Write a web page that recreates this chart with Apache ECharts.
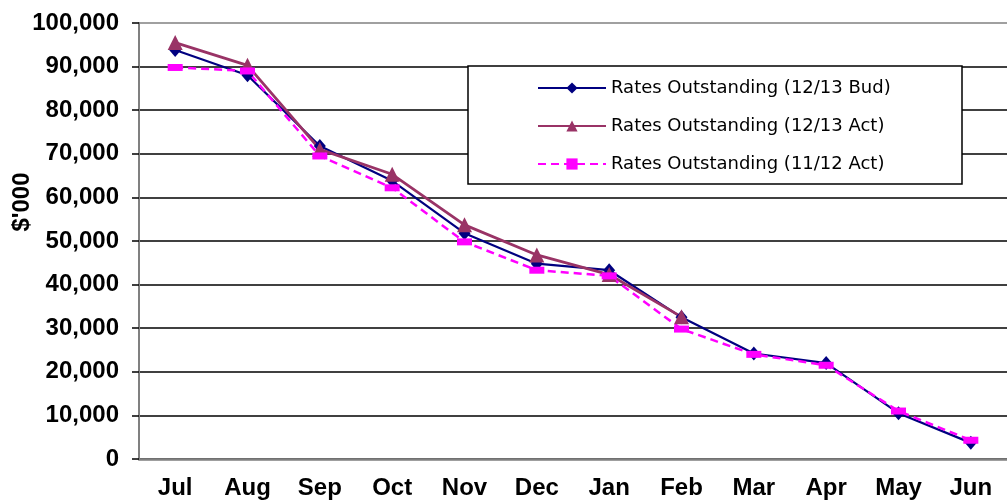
<!DOCTYPE html>
<html>
<head>
<meta charset="utf-8">
<script src="https://cdn.jsdelivr.net/npm/echarts@6/dist/echarts.min.js"></script>
<style>
  html, body { margin: 0; padding: 0; background: #fff; }
  #chart { width: 1007px; height: 500px; }
</style>
</head>
<body>
<div id="chart"></div>
<script>
// Monthly rates outstanding ($'000), financial year Jul–Jun
const months = ['Jul', 'Aug', 'Sep', 'Oct', 'Nov', 'Dec', 'Jan', 'Feb', 'Mar', 'Apr', 'May', 'Jun'];
const budget1213 = [93800, 88000, 71800, 63800, 51800, 44800, 43300, 32500, 24200, 22000, 10500, 3700];
const actual1213 = [95500, 90300, 71000, 65300, 53700, 46800, 42300, 32600, null, null, null, null];
const actual1112 = [89800, 89000, 69500, 62200, 49800, 43300, 42000, 29800, 24000, 21500, 11000, 4300];
const seriesNames = ['Rates Outstanding (12/13 Bud)', 'Rates Outstanding (12/13 Act)', 'Rates Outstanding (11/12 Act)'];
const yAxisTitle = "$'000";

const axisFont = 'Liberation Sans, Arial, sans-serif';
const withCommas = v => String(v).replace(/\B(?=(\d{3})+(?!\d))/g, ',');

// black gridlines, grey top border line at the maximum
const gridColors = [];
for (let i = 0; i < 10; i++) gridColors.push('#000');
gridColors.push('#808080');

const chart = echarts.init(document.getElementById('chart'), null, { renderer: 'canvas' });
chart.setOption({
  animation: false,
  backgroundColor: '#fff',
  grid: { left: 139, top: 23, bottom: 40, right: -12, containLabel: false },
  graphic: [
    {
      type: 'rect', z: 3,
      shape: { x: 468, y: 66, width: 494, height: 118 },
      style: { fill: '#fff', stroke: '#000', lineWidth: 1.5 }
    },
    {
      type: 'text', z: 5,
      x: 22, y: 202, rotation: Math.PI / 2,
      style: {
        text: yAxisTitle, fill: '#000', fontSize: 24, fontWeight: 'bold',
        fontFamily: axisFont, align: 'center', verticalAlign: 'middle'
      }
    }
  ],
  legend: {
    orient: 'vertical',
    left: 537, top: 79,
    padding: 0,
    itemWidth: 68, itemHeight: 14,
    itemGap: 20,
    itemTextGap: 8,
    z: 6,
    textStyle: { fontFamily: 'DejaVu Sans, sans-serif', fontSize: 18, lineHeight: 18, color: '#000' },
    data: seriesNames
  },
  xAxis: {
    type: 'category',
    data: months,
    boundaryGap: true,
    axisLine: { lineStyle: { color: '#808080', width: 2.5 } },
    axisTick: { length: 7, lineStyle: { color: '#000', width: 2 } },
    axisLabel: { margin: 17, color: '#000', fontSize: 24, fontWeight: 'bold', fontFamily: axisFont }
  },
  yAxis: {
    type: 'value',
    min: 0, max: 100000, interval: 10000,
    axisLine: { show: true, lineStyle: { color: '#808080', width: 2 } },
    axisTick: { show: true, length: 7, lineStyle: { color: '#000', width: 1.5 } },
    axisLabel: { margin: 20, color: '#000', fontSize: 24, fontWeight: 'bold', fontFamily: axisFont, formatter: withCommas },
    splitLine: { show: true, lineStyle: { color: gridColors, width: 1.5 } }
  },
  series: [
    {
      name: seriesNames[0], type: 'line', data: budget1213,
      color: '#000080',
      symbol: 'diamond', symbolSize: [12, 14],
      lineStyle: { width: 2.2, color: '#000080' },
      itemStyle: { color: '#000080' }
    },
    {
      name: seriesNames[1], type: 'line', data: actual1213,
      color: '#993366',
      symbol: 'triangle', symbolSize: [15, 15],
      lineStyle: { width: 2.8, color: '#993366' },
      itemStyle: { color: '#993366' }
    },
    {
      name: seriesNames[2], type: 'line', data: actual1112,
      color: '#ff00ff',
      symbol: 'rect', symbolSize: [15, 7],
      lineStyle: { width: 2.5, color: '#ff00ff', type: [8, 5] },
      itemStyle: { color: '#ff00ff' }
    }
  ]
});
</script>
</body>
</html>
